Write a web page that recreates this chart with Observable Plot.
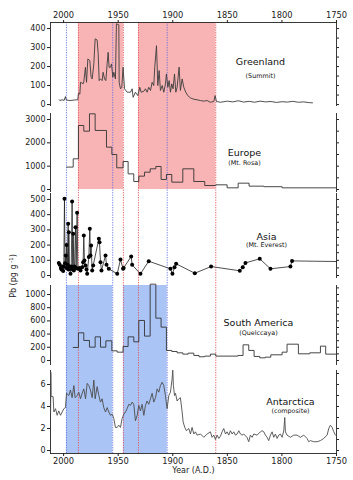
<!DOCTYPE html>
<html><head><meta charset="utf-8">
<script src="https://cdn.jsdelivr.net/npm/d3@7"></script>
<script src="https://cdn.jsdelivr.net/npm/@observablehq/plot@0.6"></script>
<style>
html,body{margin:0;padding:0;background:#fff;}
#chart{position:relative;width:353px;height:480px;font-family:"DejaVu Sans",sans-serif;overflow:hidden;}
#chart svg{position:absolute;left:0;overflow:visible;}
#ylabel{position:absolute;left:13px;top:276px;transform:translate(-50%,-50%) rotate(-90deg);white-space:nowrap;font-size:8px;color:#222;}
#ylabel sup{font-size:5.5px;}
</style></head><body>
<div id="chart"><div id="ylabel">Pb (pg g<sup> -1</sup>)</div></div>
<script>
// ---------- data ----------
const yearTicks = [2000, 1950, 1900, 1850, 1800, 1750];

const pinkStart = [1986.4, 1931.4];
const pinkEnd   = [1945.2, 1860.6];
const blueStart = [1997.4, 1945.2];
const blueEnd   = [1955.0, 1905.1];
const redLines  = [1986.4, 1945.2, 1931.4, 1860.6];
const blueLines = [1997.4, 1955.0, 1905.1];

const greenlandYears = [2004.0,2003.5,2001.5,1999.5,1998.3,1997.5,1994,1990,1987.0,1986.4,1985.1,1984.5,1982,1981.5,1980.0,1979.0,1977.8,1976.0,1974.8,1973.8,1972.3,1971.1,1969.3,1968.3,1967.4,1966.2,1964.7,1963.8,1962.5,1961.3,1960.1,1959.2,1958.3,1957.1,1956.1,1954.9,1954.0,1952.5,1951.6,1949.4,1949.1,1947.9,1946.7,1945.5,1944.2,1941.8,1938.7,1937.2,1936.3,1934.2,1932.0,1930.2,1929.0,1926.5,1925.0,1923.5,1922.0,1920.4,1918.9,1917.4,1916.5,1914.9,1913.7,1912.5,1911.3,1909.7,1908.2,1906.7,1905.8,1904.5,1903.3,1902.1,1900.9,1899.7,1898.4,1897.2,1896.0,1894.2,1893.0,1891.4,1889.9,1888.1,1886.2,1883.8,1880.7,1877.7,1874.6,1871.6,1868.5,1865.5,1862.4,1861.2,1860.0,1856.3,1850,1845,1840,1835,1830,1825,1820,1815,1810,1805,1800,1795,1790,1785,1780,1775,1772];
const greenlandPb = [25,21,25,22,42,24,21,24,25,59,55,117,110,120,196,117,240,232,144,135,214,346,340,268,126,135,126,170,135,126,214,275,196,196,214,144,170,135,425,420,117,83,91,196,83,65,65,83,38,65,47,91,65,70,83,65,91,74,117,100,196,310,100,179,74,100,65,109,161,91,126,65,109,83,161,65,91,197,74,135,91,65,47,35,28,25,21,18,21,12,16,47,16,12,18,14,20,13,17,12,18,14,16,11,15,13,17,12,14,10,9];

const europeYears = [1997.3,1991.2,1986.4,1981.5,1976.3,1971.1,1960.7,1955.8,1951.3,1945.5,1940.9,1935.7,1931.1,1925.9,1920.7,1915.5,1910.7,1905.8,1900.9,1890.8,1880.7,1870.7,1860.6,1850.2,1840.1,1830.1,1816.6,1799.8,1750];
const europePb    = [960,1315,2743,2500,3243,2530,1815,1500,930,1200,670,343,572,743,886,986,429,643,314,886,343,171,200,71,271,143,120,71,28];

const asiaYears = [2004.4,2003.5,2002.5,2001.9,2001.0,2000.4,1999.8,1999.2,1998.7,1998.0,1997.6,1997.3,1996.5,1995.8,1995.5,1995.2,1994.6,1994.3,1993.7,1993.0,1992.2,1991.6,1991.2,1990.6,1990.0,1989.1,1988.5,1987.6,1987.0,1985.5,1984.5,1983.0,1982.1,1981.5,1980.9,1979.9,1979.0,1978.4,1976.9,1976.0,1975.4,1974.8,1973.8,1972.9,1967.7,1967.1,1966.2,1965.3,1961.6,1960.7,1958.6,1950.9,1947.9,1945.5,1945.0,1938.1,1937.2,1929.6,1922.0,1902.1,1900.3,1898.4,1896.9,1879.8,1864.9,1838.6,1835.9,1833.4,1820.3,1810.5,1792.2,1790.7];
const asiaPb    = [83,70,50,40,60,30,60,504,80,131,50,201,70,340,40,285,60,44,11,60,487,40,274,33,60,318,50,412,44,50,33,55,88,263,99,66,40,11,121,307,132,197,33,66,241,219,88,33,132,70,44,11,105,44,50,125,70,11,94,44,11,55,77,15,59,31,55,83,110,44,59,96];
const asiaEndYear = [1750];
const asiaEndPb   = [92];

const samericaYears = [1991.2,1986.4,1981.5,1976.3,1971.1,1966.2,1961.3,1955.8,1950.9,1945.5,1940.9,1935.7,1931.1,1925.9,1920.7,1915.5,1910.7,1905.8,1900.9,1896.0,1890.8,1885.9,1880.7,1875.9,1870.7,1865.5,1860.6,1840.4,1835.6,1830.4,1825.5,1820.3,1815.4,1810.2,1799.8,1795.3,1784.9,1774.5,1764.7,1759.9,1750.1];
const samericaPb    = [197,419,303,202,358,202,298,146,126,212,358,283,606,369,1156,641,505,152,136,116,96,111,76,56,66,96,66,76,237,152,61,40,50,86,126,247,101,116,217,96,96];

const antarcticaYears = [2011.9,2011.7,2011.4,2009.6,2008.9,2007.4,2005.9,2004.4,2002.8,2001.3,1999.8,1998.3,1997.3,1995.2,1993.7,1992.2,1990.6,1989.4,1987.6,1986.1,1984.5,1983.0,1981.5,1979.9,1978.4,1976.9,1975.4,1973.8,1972.3,1971.1,1969.3,1967.7,1966.2,1964.7,1963.2,1961.6,1960.1,1958.6,1957.1,1955.5,1954.0,1952.5,1950.9,1949.4,1947.9,1946.4,1944.8,1943.3,1941.8,1940.3,1938.7,1937.2,1935.7,1934.2,1932.6,1931.1,1929.6,1928.1,1926.5,1925.0,1923.5,1922.0,1920.4,1918.9,1917.4,1915.8,1914.3,1912.8,1911.3,1909.7,1908.2,1906.7,1905.2,1903.6,1902.1,1900.6,1900.0,1899.4,1898.4,1897.5,1896.0,1894.5,1893.0,1891.4,1890.5,1889.0,1887.5,1885.3,1883.8,1882.3,1880.7,1879.2,1877.7,1874.6,1871.6,1868.5,1865.5,1864.0,1862.4,1860.9,1859.4,1857.8,1856.3,1854.8,1853.3,1851.7,1850.2,1848.7,1847.2,1845.6,1844.1,1842.6,1841.1,1839.5,1838.0,1836.5,1835.0,1832.0,1830.4,1828.9,1827.3,1825.8,1822.7,1819.7,1818.2,1816.6,1815.1,1813.6,1812.1,1810.5,1809.0,1807.5,1806.0,1804.4,1802.9,1801.4,1799.8,1798.3,1797.4,1796.8,1795.3,1792.2,1789.2,1786.1,1783.1,1780.0,1777.0,1775.4,1773.9,1770.9,1767.8,1764.7,1761.7,1758.6,1757.1,1755.6,1754.0,1752.5,1751.0];
const antarcticaPb    = [3.4,7.1,4.9,4.9,3.5,3.8,3.2,3.6,3.2,3.5,3.8,3.9,5.2,5.0,5.5,4.8,5.9,4.8,5.0,5.3,4.7,5.2,5.6,4.7,6.1,5.9,5.5,4.8,6.4,4.7,5.8,5.0,4.4,4.7,3.9,3.5,3.9,3.5,3.2,3.3,2.9,2.1,2.1,2.3,2.1,2.9,3.3,3.5,3.8,4.2,4.1,4.4,4.2,2.7,3.2,4.1,3.6,4.2,3.2,4.1,4.5,4.2,4.7,5.2,4.4,4.8,5.6,5.3,5.9,6.2,5.9,5.0,3.8,5.0,5.3,6.5,7.3,5.9,5.0,5.2,4.5,4.7,4.8,3.5,2.6,2.1,1.8,2.0,1.5,2.1,1.5,1.7,1.4,1.5,1.2,1.5,1.7,1.2,1.4,1.0,1.4,1.1,1.3,1.7,2.0,1.5,1.7,1.4,1.8,1.5,1.7,1.4,1.5,1.8,1.5,1.4,1.5,1.2,0.8,1.4,1.2,1.5,1.4,1.7,1.8,1.7,1.4,1.2,0.9,1.4,1.7,1.2,1.5,1.1,1.4,1.5,1.2,1.8,3.0,1.7,1.4,1.2,1.4,1.4,1.2,1.4,1.1,0.8,0.9,0.8,0.8,0.9,1.1,1.4,2.0,2.3,2.1,1.7,1.4];

// ---------- layout ----------
const W = 353, ML = 50, MR = 17;
const X_DOMAIN = [2012, 1750];
const FONT = "DejaVu Sans, sans-serif";
const INK = "#222";
const chart = document.getElementById("chart");

function panel(cfg) {
  const marks = [
    Plot.frame({anchor: "left", stroke: INK, strokeWidth: 0.9}),
    Plot.frame({anchor: "right", stroke: INK, strokeWidth: 0.9}),
    Plot.axisY(cfg.ticks, {anchor: "left", tickSize: 3, tickPadding: 2, label: null, tickFormat: d => String(d), stroke: INK, fill: INK}),
    Plot.axisY(cfg.minor, {anchor: "right", tickSize: 2, label: null, tickFormat: () => "", stroke: INK}),
    ...(cfg.extra || []),
    ...cfg.marks,
    Plot.text([cfg.name], {text: d => d, frameAnchor: "top-right", dx: cfg.dx, dy: cfg.dy, fontSize: 9.5, textAnchor: "middle", fill: "#111"}),
    Plot.text([cfg.sub], {text: d => d, frameAnchor: "top-right", dx: cfg.dx, dy: cfg.dy + cfg.gap, fontSize: 6.4, textAnchor: "middle", fill: "#111"})
  ];
  const p = Plot.plot({
    width: W, height: cfg.mt + cfg.fh + cfg.mb,
    marginLeft: ML, marginRight: MR, marginTop: cfg.mt, marginBottom: cfg.mb,
    x: {domain: X_DOMAIN, axis: null},
    y: {domain: cfg.yDomain, axis: null},
    style: {background: "transparent", overflow: "visible", fontFamily: FONT, fontSize: "8px", color: INK},
    marks
  });
  p.style.top = cfg.top + "px";
  p.__top = cfg.top;
  return p;
}

const G = panel({
  top: 0, mt: 22, fh: 83, mb: 4, yDomain: [-5, 432],
  ticks: [0, 100, 200, 300, 400], minor: d3.range(0, 450, 50),
  name: "Greenland", sub: "(Summit)", dx: -76, dy: 36, gap: 15,
  extra: [
    Plot.frame({anchor: "top", stroke: INK, strokeWidth: 0.9}),
    Plot.axisX(yearTicks, {anchor: "top", tickSize: 3, tickPadding: 2, label: null, tickFormat: d => String(d), stroke: INK, fill: INK, fontSize: 8.3})
  ],
  marks: [Plot.line(greenlandPb, {x: greenlandYears, y: greenlandPb, stroke: "#3c3c3c", strokeWidth: 0.9})]
});

const E = panel({
  top: 109, mt: 4, fh: 78, mb: 4, yDomain: [-86, 3257],
  ticks: [0, 1000, 2000, 3000], minor: d3.range(0, 3500, 500),
  name: "Europe", sub: "(Mt. Rosa)", dx: -92, dy: 36, gap: 11,
  marks: [Plot.line(europePb, {x: europeYears, y: europePb, curve: "step-after", stroke: "#333", strokeWidth: 0.9})]
});

const A = panel({
  top: 189, mt: 4, fh: 84, mb: 4, yDomain: [-13, 539],
  ticks: [0, 100, 200, 300, 400, 500], minor: d3.range(0, 550, 50),
  name: "Asia", sub: "(Mt. Everest)", dx: -70, dy: 40, gap: 9,
  marks: [
    Plot.line(asiaPb.concat(asiaEndPb), {x: asiaYears.concat(asiaEndYear), y: asiaPb.concat(asiaEndPb), stroke: "#222", strokeWidth: 0.8}),
    Plot.dot(asiaPb, {x: asiaYears, y: asiaPb, r: 2, fill: "#000", stroke: "none"})
  ]
});

const S = panel({
  top: 281, mt: 4, fh: 79, mb: 4, yDomain: [-61, 1136],
  ticks: [0, 200, 400, 600, 800, 1000], minor: d3.range(0, 1200, 100),
  name: "South America", sub: "(Quelccaya)", dx: -78, dy: 34, gap: 11,
  marks: [Plot.line(samericaPb, {x: samericaYears, y: samericaPb, curve: "step-after", stroke: "#333", strokeWidth: 0.9})]
});

const N = panel({
  top: 366, mt: 4, fh: 83, mb: 27, yDomain: [-0.27, 7.27],
  ticks: [0, 2, 4, 6], minor: d3.range(0, 8, 1),
  name: "Antarctica", sub: "(composite)", dx: -46, dy: 28, gap: 10,
  extra: [
    Plot.frame({anchor: "bottom", stroke: INK, strokeWidth: 0.9}),
    Plot.axisX(yearTicks, {anchor: "bottom", tickSize: 3, tickPadding: 2, label: null, tickFormat: d => String(d), stroke: INK, fill: INK, fontSize: 8.3}),
    Plot.text(["Year (A.D.)"], {text: d => d, frameAnchor: "bottom", dy: 19, fontSize: 8, fill: INK})
  ],
  marks: [Plot.line(antarcticaPb, {x: antarcticaYears, y: antarcticaPb, stroke: "#4d4d4d", strokeWidth: 0.9})]
});

// pixel helpers from each panel's own y scale
const frameTop = p => p.__top + Math.min(...p.scale("y").range);
const frameBottom = p => p.__top + Math.max(...p.scale("y").range);
const atValue = (p, v) => p.__top + p.scale("y").apply(v);

const pinkTop = frameTop(G), pinkBottom = atValue(E, 0);
const blueTop = frameTop(S), blueBottom = frameBottom(N);
const lineTop = frameTop(G), lineBottom = frameBottom(N);

const overlay = Plot.plot({
  width: W, height: 480, marginLeft: ML, marginRight: MR, marginTop: 0, marginBottom: 0,
  x: {domain: X_DOMAIN, axis: null},
  y: {type: "identity", axis: null},
  style: {background: "transparent", overflow: "visible"},
  marks: [
    Plot.rect(pinkStart, {x1: pinkStart, x2: pinkEnd, y1: pinkTop, y2: pinkBottom, fill: "#f8b4b5"}),
    Plot.rect(blueStart, {x1: blueStart, x2: blueEnd, y1: blueTop, y2: blueBottom, fill: "#a9c4f5"}),
    Plot.ruleX(redLines, {x: redLines, y1: lineTop, y2: lineBottom, stroke: "#e5484d", strokeWidth: 0.8, strokeDasharray: "1.3,1.2"}),
    Plot.ruleX(blueLines, {x: blueLines, y1: lineTop, y2: lineBottom, stroke: "#5b68e0", strokeWidth: 0.8, strokeDasharray: "1.3,1.2"})
  ]
});
overlay.style.top = "0px";

chart.appendChild(overlay);
[G, E, A, S, N].forEach(p => chart.appendChild(p));
</script>
</body></html>
